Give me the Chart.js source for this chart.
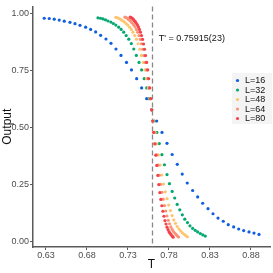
<!DOCTYPE html>
<html>
<head>
<meta charset="utf-8">
<script src="https://cdn.jsdelivr.net/npm/chart.js@4.4.1/dist/chart.umd.min.js"></script>
<style>
  html, body { margin: 0; padding: 0; background: #fff; }
  #wrap { width: 273px; height: 273px; position: relative; }
</style>
</head>
<body>
<div id="wrap"><canvas id="chart"></canvas></div>
<script>
// Temperatures, one list per lattice size
const T16 = [0.6279, 0.6340, 0.6401, 0.6462, 0.6523, 0.6593, 0.6654, 0.6715, 0.6784, 0.6845,
  0.6906, 0.6967, 0.7032, 0.7093, 0.7154, 0.7215, 0.7282, 0.7343, 0.7406, 0.7467,
  0.7528, 0.7589, 0.7650, 0.7715, 0.7776, 0.7839, 0.7901, 0.7962, 0.8023, 0.8089,
  0.8150, 0.8211, 0.8276, 0.8337, 0.8398, 0.8462, 0.8523, 0.8589, 0.8650, 0.8711,
  0.8776, 0.8837, 0.8898];
const T32 = [0.6934, 0.6965, 0.6995, 0.7026, 0.7056, 0.7091, 0.7121, 0.7152, 0.7187, 0.7217,
  0.7248, 0.7278, 0.7310, 0.7341, 0.7371, 0.7402, 0.7435, 0.7466, 0.7498, 0.7528,
  0.7559, 0.7589, 0.7620, 0.7652, 0.7682, 0.7714, 0.7745, 0.7776, 0.7806, 0.7839,
  0.7870, 0.7900, 0.7932, 0.7963, 0.7993, 0.8026, 0.8056, 0.8089, 0.8120, 0.8150,
  0.8182, 0.8213, 0.8243];
const T48 = [0.7152, 0.7173, 0.7193, 0.7213, 0.7234, 0.7257, 0.7277, 0.7298, 0.7321, 0.7341,
  0.7361, 0.7382, 0.7403, 0.7424, 0.7444, 0.7464, 0.7487, 0.7507, 0.7528, 0.7548,
  0.7569, 0.7589, 0.7609, 0.7631, 0.7651, 0.7672, 0.7693, 0.7713, 0.7734, 0.7756,
  0.7776, 0.7796, 0.7818, 0.7838, 0.7859, 0.7880, 0.7900, 0.7922, 0.7943, 0.7963,
  0.7985, 0.8005, 0.8025];
const T64 = [0.7262, 0.7277, 0.7292, 0.7307, 0.7323, 0.7340, 0.7355, 0.7370, 0.7388, 0.7403,
  0.7418, 0.7434, 0.7450, 0.7465, 0.7480, 0.7495, 0.7512, 0.7527, 0.7543, 0.7559,
  0.7574, 0.7589, 0.7604, 0.7620, 0.7636, 0.7652, 0.7667, 0.7682, 0.7698, 0.7714,
  0.7729, 0.7745, 0.7761, 0.7776, 0.7791, 0.7807, 0.7823, 0.7839, 0.7854, 0.7870,
  0.7886, 0.7901, 0.7916];
const T80 = [0.7327, 0.7339, 0.7351, 0.7364, 0.7376, 0.7390, 0.7402, 0.7414, 0.7428, 0.7440,
  0.7452, 0.7465, 0.7478, 0.7490, 0.7502, 0.7514, 0.7528, 0.7540, 0.7552, 0.7565,
  0.7577, 0.7589, 0.7601, 0.7614, 0.7626, 0.7639, 0.7651, 0.7664, 0.7676, 0.7689,
  0.7701, 0.7713, 0.7726, 0.7739, 0.7751, 0.7764, 0.7776, 0.7789, 0.7801, 0.7813,
  0.7826, 0.7839, 0.7851];

// Output values
const out16 = [0.978, 0.977, 0.974, 0.970, 0.965, 0.960, 0.954, 0.947, 0.939, 0.929,
  0.918, 0.903, 0.887, 0.868, 0.843, 0.815, 0.784, 0.751, 0.713, 0.672,
  0.625, 0.576, 0.527, 0.477, 0.429, 0.380, 0.337, 0.294, 0.255, 0.222,
  0.194, 0.166, 0.142, 0.120, 0.101, 0.087, 0.072, 0.062, 0.053, 0.046,
  0.040, 0.035, 0.029];
const out32 = [0.980, 0.978, 0.975, 0.971, 0.966, 0.961, 0.955, 0.948, 0.939, 0.929,
  0.917, 0.902, 0.886, 0.867, 0.843, 0.815, 0.784, 0.751, 0.713, 0.672,
  0.625, 0.576, 0.527, 0.477, 0.428, 0.379, 0.335, 0.292, 0.252, 0.218,
  0.189, 0.161, 0.137, 0.115, 0.096, 0.081, 0.067, 0.056, 0.047, 0.040,
  0.033, 0.027, 0.022];
const out48 = [0.982, 0.980, 0.977, 0.972, 0.967, 0.962, 0.955, 0.948, 0.939, 0.929,
  0.917, 0.902, 0.886, 0.866, 0.842, 0.815, 0.784, 0.751, 0.713, 0.672,
  0.625, 0.576, 0.527, 0.477, 0.427, 0.378, 0.334, 0.290, 0.250, 0.216,
  0.186, 0.158, 0.134, 0.112, 0.093, 0.078, 0.064, 0.053, 0.044, 0.036,
  0.030, 0.024, 0.019];
const out64 = [0.983, 0.981, 0.978, 0.973, 0.968, 0.962, 0.956, 0.948, 0.940, 0.929,
  0.917, 0.902, 0.885, 0.866, 0.842, 0.814, 0.784, 0.751, 0.713, 0.672,
  0.625, 0.576, 0.527, 0.477, 0.427, 0.378, 0.333, 0.289, 0.249, 0.214,
  0.184, 0.156, 0.132, 0.110, 0.091, 0.076, 0.062, 0.051, 0.042, 0.035,
  0.029, 0.023, 0.018];
const out80 = [0.983, 0.981, 0.978, 0.974, 0.968, 0.963, 0.956, 0.949, 0.940, 0.929,
  0.917, 0.902, 0.885, 0.865, 0.842, 0.814, 0.784, 0.751, 0.713, 0.672,
  0.625, 0.576, 0.527, 0.477, 0.427, 0.377, 0.332, 0.288, 0.248, 0.213,
  0.183, 0.155, 0.131, 0.109, 0.090, 0.075, 0.061, 0.050, 0.041, 0.034,
  0.028, 0.022, 0.017];

const seriesLabels = ['L=16', 'L=32', 'L=48', 'L=64', 'L=80'];
const seriesT = [T16, T32, T48, T64, T80];
const seriesOut = [out16, out32, out48, out64, out80];
const seriesColors = ['#0F5FE0', '#05A870', '#FCC66E', '#FA9278', '#F2434A'];

const xTicks = [0.63, 0.68, 0.73, 0.78, 0.83, 0.88];
const yTicks = [0.00, 0.25, 0.50, 0.75, 1.00];
const Tc = 0.75915;
const TcLabel = "T' = 0.75915(23)";

const FONT = "'Liberation Sans', Arial, sans-serif";
const axisGrey = '#5a5a5a';

const datasets = seriesLabels.map((lab, k) => ({
  label: lab,
  data: seriesT[k].map((t, i) => ({ x: t, y: seriesOut[k][i] })),
  backgroundColor: seriesColors[k],
  borderColor: seriesColors[k],
  borderWidth: 0,
  pointRadius: 1.6,
  pointHoverRadius: 1.6,
  showLine: false,
  order: seriesLabels.length - k
}));

// dashed critical line, T' label, axis titles, legend
const extras = {
  id: 'extras',
  beforeDatasetsDraw(chart) {
    const { ctx, chartArea, scales } = chart;
    const px = Math.round(scales.x.getPixelForValue(Tc)) + 0.5;
    ctx.save();
    ctx.strokeStyle = '#8a8a8a';
    ctx.lineWidth = 1.3;
    ctx.setLineDash([5, 3]);
    ctx.beginPath();
    ctx.moveTo(px, chartArea.top);
    ctx.lineTo(px, chartArea.bottom);
    ctx.stroke();
    ctx.restore();
  },
  afterDraw(chart) {
    const { ctx, chartArea, scales } = chart;
    ctx.save();
    // T' annotation
    ctx.fillStyle = '#111';
    ctx.font = '9px ' + FONT;
    ctx.textBaseline = 'middle';
    ctx.textAlign = 'left';
    ctx.fillText(TcLabel, scales.x.getPixelForValue(Tc) + 7, scales.y.getPixelForValue(0.887));

    // axis titles
    ctx.font = '12px ' + FONT;
    ctx.textAlign = 'center';
    ctx.fillText('T', (chartArea.left + chartArea.right) / 2, 265);
    ctx.translate(8, (chartArea.top + chartArea.bottom) / 2);
    ctx.rotate(-Math.PI / 2);
    ctx.fillText('Output', 0, 0);
    ctx.setTransform(1, 0, 0, 1, 0, 0);

    // legend
    const lx = 232, ly = 73, rowH = 9.5;
    ctx.fillStyle = '#f4f4f4';
    ctx.fillRect(lx, ly, 40, 51);
    ctx.font = '9px ' + FONT;
    ctx.textAlign = 'left';
    seriesLabels.forEach((lab, k) => {
      const cy = ly + 7.5 + k * rowH;
      ctx.fillStyle = seriesColors[k];
      ctx.beginPath();
      ctx.arc(lx + 5.5, cy, 1.6, 0, Math.PI * 2);
      ctx.fill();
      ctx.fillStyle = '#111';
      ctx.fillText(lab, lx + 13, cy + 0.5);
    });
    ctx.restore();
  }
};

new Chart(document.getElementById('chart'), {
  type: 'scatter',
  data: { datasets },
  options: {
    responsive: true,
    maintainAspectRatio: false,
    animation: false,
    devicePixelRatio: 1,
    layout: { padding: { top: 3, right: 3, left: 0, bottom: 0 } },
    plugins: {
      legend: { display: false },
      tooltip: { enabled: false }
    },
    scales: {
      x: {
        type: 'linear',
        min: 0.6142,
        max: 0.9032,
        afterBuildTicks: s => { s.ticks = xTicks.map(v => ({ value: v })); },
        afterFit: s => { s.height = 26; },
        border: { display: true, color: axisGrey, width: 1.5 },
        grid: { display: true, drawOnChartArea: false, drawTicks: true, tickLength: 3, color: axisGrey, lineWidth: 1 },
        ticks: {
          padding: 0,
          color: '#4d4d4d',
          font: { family: FONT, size: 9 },
          maxRotation: 0,
          callback: v => v.toFixed(2)
        }
      },
      y: {
        type: 'linear',
        min: -0.026,
        max: 1.030,
        afterBuildTicks: s => { s.ticks = yTicks.map(v => ({ value: v })); },
        afterFit: s => { s.width = 33; },
        border: { display: true, color: axisGrey, width: 1.5 },
        grid: { display: true, drawOnChartArea: false, drawTicks: true, tickLength: 3, color: axisGrey, lineWidth: 1 },
        ticks: {
          padding: 1,
          color: '#4d4d4d',
          font: { family: FONT, size: 9 },
          callback: v => v.toFixed(2)
        }
      }
    }
  },
  plugins: [extras]
});
</script>
</body>
</html>
